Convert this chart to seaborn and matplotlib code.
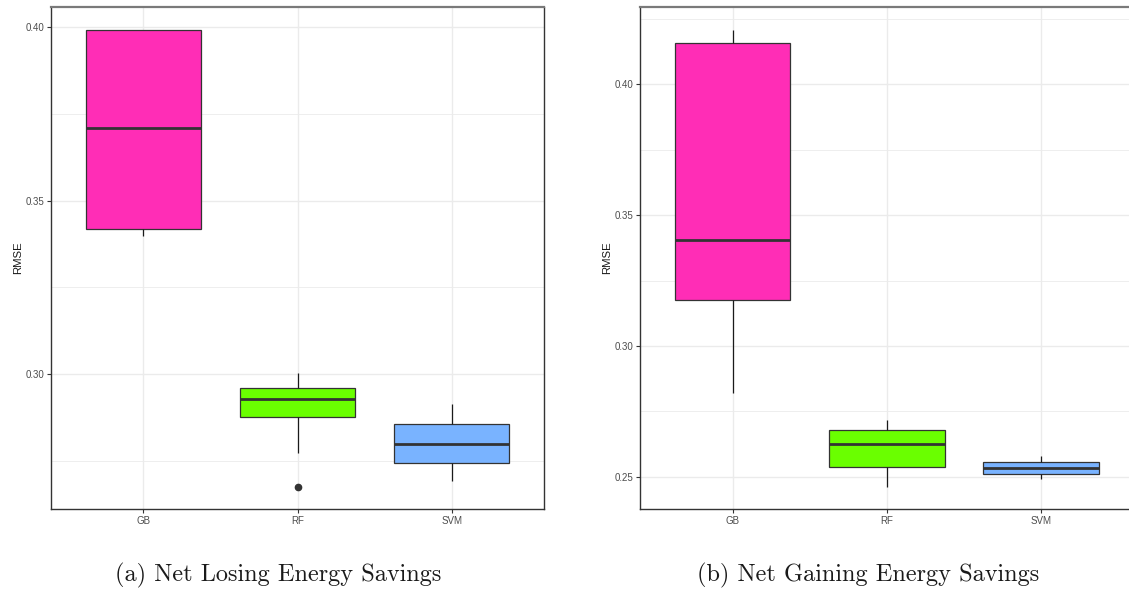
import numpy as np
import pandas as pd
import matplotlib
matplotlib.use("Agg")
import matplotlib.pyplot as plt
import seaborn as sns
from matplotlib.ticker import MultipleLocator

# ---- data ----
models = ["GB", "RF", "SVM"]
colors = ["#FF2DB6", "#6AFF00", "#79B3FF"]

# (a) Net Losing Energy Savings
losing_gb = [0.3398, 0.3419, 0.3710, 0.3991, 0.3991]
losing_rf = [0.2675, 0.2773, 0.2875, 0.2900, 0.2928, 0.2945, 0.2961, 0.2985, 0.3002]
losing_svm = [0.2692, 0.2745, 0.2799, 0.2857, 0.2913]

# (b) Net Gaining Energy Savings
gaining_gb = [0.2820, 0.3175, 0.3407, 0.4158, 0.4208]
gaining_rf = [0.2462, 0.2537, 0.2625, 0.2679, 0.2719]
gaining_svm = [0.2491, 0.2510, 0.2532, 0.2556, 0.2578]

captions = ["(a) Net Losing Energy Savings", "(b) Net Gaining Energy Savings"]
y_label = "RMSE"


def make_df(gb, rf, svm):
    rows = []
    for name, vals in zip(models, [gb, rf, svm]):
        for v in vals:
            rows.append({"model": name, "RMSE": v})
    return pd.DataFrame(rows)


df_a = make_df(losing_gb, losing_rf, losing_svm)
df_b = make_df(gaining_gb, gaining_rf, gaining_svm)

sns.set_theme(style="white")
plt.rcParams["font.family"] = ["Liberation Sans", "DejaVu Sans"]

W, H = 1129, 590
fig = plt.figure(figsize=(W / 100, H / 100), dpi=100)


def px_axes(x0, x1, y0, y1):
    return fig.add_axes([x0 / W, 1 - y1 / H, (x1 - x0) / W, (y1 - y0) / H])


ax_a = px_axes(51, 544, 7, 509)
ax_b = px_axes(640, 1133.5, 7, 509)

pal = dict(zip(models, colors))

for ax, df, ylim, cap, capx in [
    (ax_a, df_a, (0.2611, 0.4058), captions[0], 278),
    (ax_b, df_b, (0.2377, 0.4296), captions[1], 868),
]:
    ax.set_axisbelow(True)
    sns.boxplot(
        data=df, x="model", y="RMSE", hue="model", palette=pal, order=models,
        legend=False, width=0.75, ax=ax, saturation=1,
        linecolor="#333333", linewidth=0.9, showcaps=False,
        medianprops=dict(color="#333333", linewidth=2.0),
        whiskerprops=dict(color="#1a1a1a", linewidth=0.9),
        flierprops=dict(marker="o", markerfacecolor="#333333",
                        markeredgecolor="#333333", markersize=4.5),
    )
    ax.set_xlim(-0.6, 2.6)
    ax.set_ylim(*ylim)
    ax.yaxis.set_major_locator(MultipleLocator(0.05))
    ax.yaxis.set_minor_locator(MultipleLocator(0.025))
    ax.yaxis.set_major_formatter(matplotlib.ticker.FormatStrFormatter("%.2f"))
    ax.grid(True, which="major", color="#EBEBEB", linewidth=1.0)
    ax.grid(True, which="minor", axis="y", color="#EBEBEB", linewidth=0.6)
    ax.tick_params(axis="both", which="major", length=3, width=0.8,
                   color="#333333", labelsize=7, labelcolor="#4D4D4D", pad=2,
                   left=True, bottom=True)
    ax.tick_params(axis="y", which="minor", length=0)
    ax.set_xlabel("")
    ax.set_ylabel(y_label, fontsize=8.2, color="#1a1a1a", labelpad=1.5)
    for side in ["left", "bottom", "right"]:
        ax.spines[side].set_color("#333333")
        ax.spines[side].set_linewidth(1.0)
    ax.spines["top"].set_color("#7a7a7a")
    ax.spines["top"].set_linewidth(1.6)
    fig.text(capx / W, 1 - 575 / H, cap, ha="center", va="center",
             fontsize=17.5, family=["cmr10", "DejaVu Serif"], color="#1a1a1a")

fig.savefig("out.png", dpi=100)
